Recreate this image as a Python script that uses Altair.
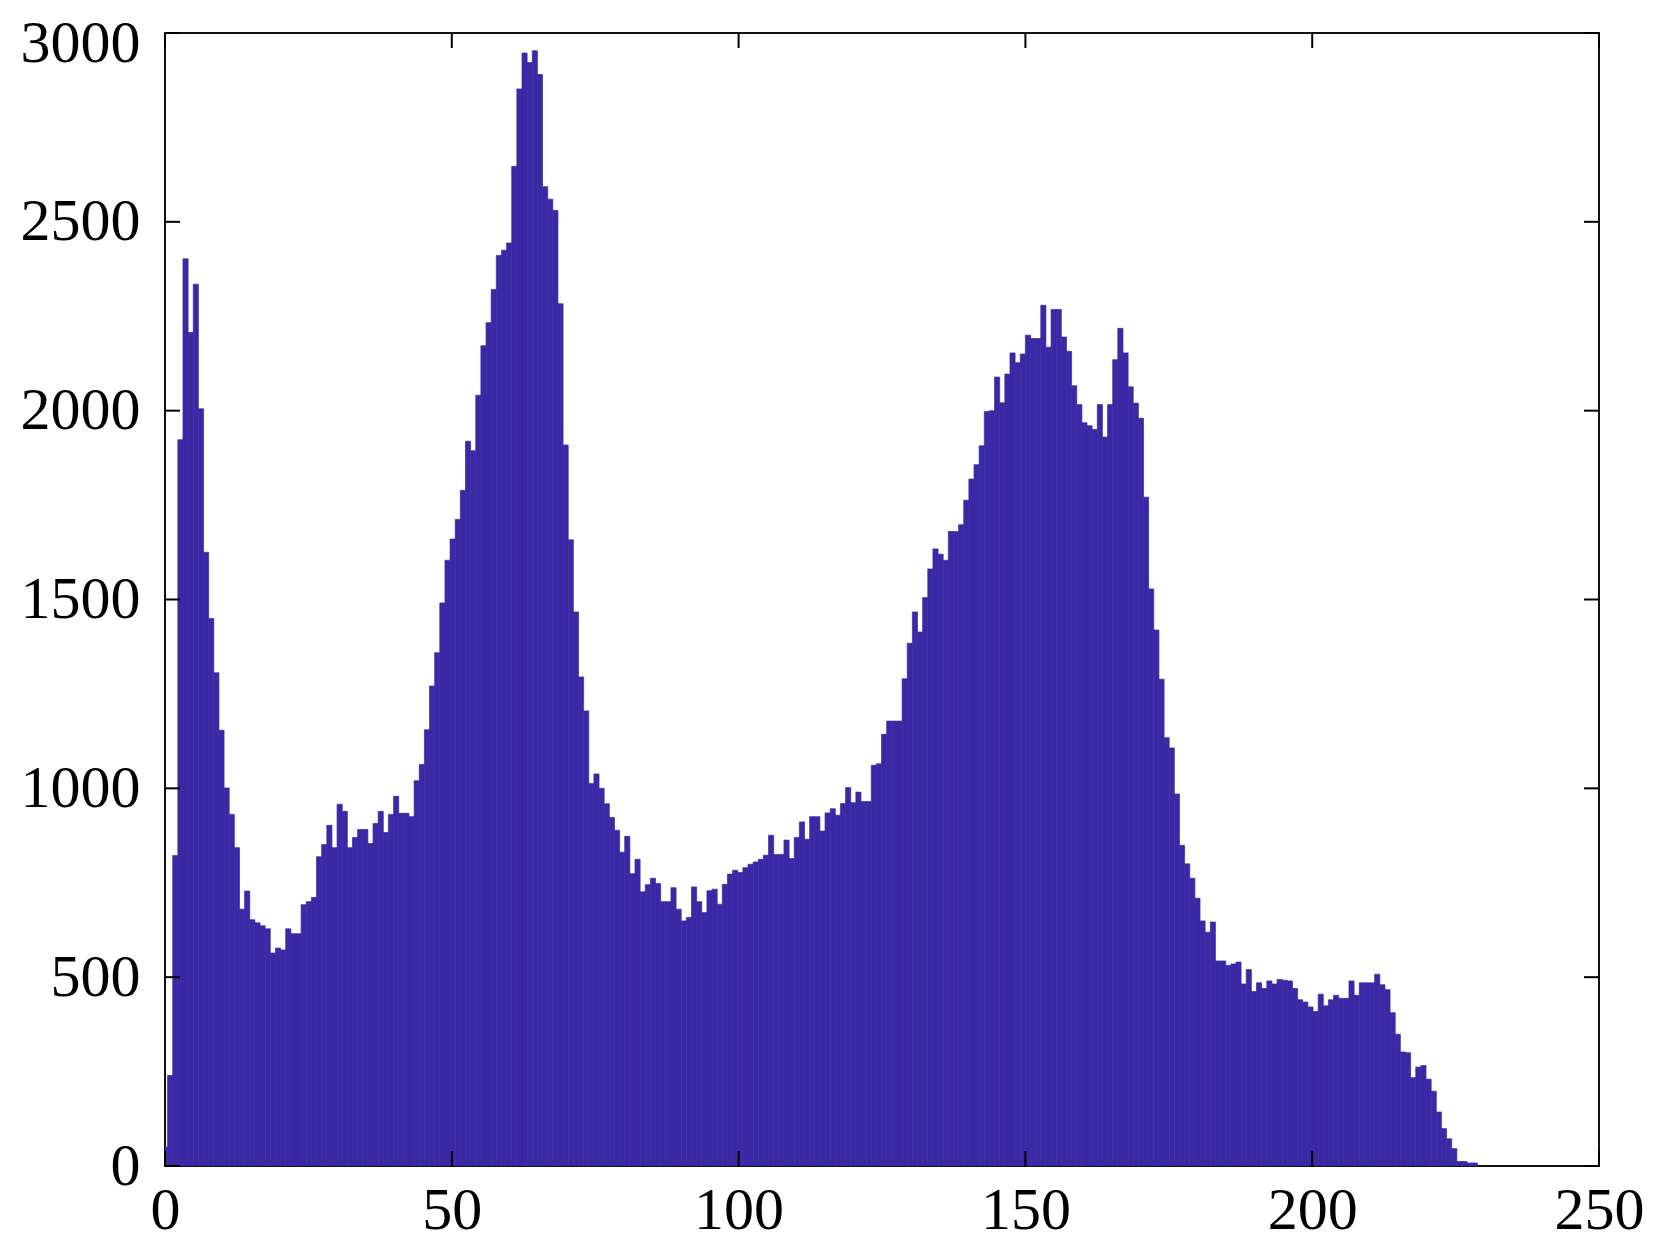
import altair as alt
import pandas as pd

# histogram counts, one per bin (256 bins)
counts = [
    50, 240, 822, 1923, 2402, 2207, 2335, 2005, 1625, 1450,
    1306, 1154, 1001, 931, 843, 680, 728, 652, 644, 636,
    628, 564, 577, 572, 628, 615, 615, 692, 700, 711,
    819, 851, 902, 843, 958, 939, 843, 870, 891, 891,
    854, 907, 939, 883, 931, 979, 934, 934, 925, 1020,
    1063, 1155, 1271, 1359, 1491, 1604, 1660, 1712, 1789, 1919,
    1894, 2041, 2172, 2233, 2321, 2411, 2425, 2444, 2647, 2852,
    2947, 2922, 2953, 2890, 2593, 2560, 2530, 2283, 1909, 1658,
    1467, 1295, 1205, 1013, 1038, 1000, 959, 923, 889, 831,
    873, 774, 812, 726, 745, 762, 748, 700, 700, 737,
    680, 649, 658, 739, 700, 671, 729, 733, 693, 746,
    773, 783, 777, 790, 799, 805, 812, 823, 876, 825,
    825, 863, 814, 870, 911, 865, 925, 925, 887, 935,
    946, 929, 960, 1002, 962, 990, 965, 965, 1061, 1065,
    1143, 1178, 1178, 1178, 1290, 1384, 1467, 1414, 1505, 1581,
    1634, 1620, 1604, 1680, 1680, 1698, 1763, 1819, 1857, 1907,
    1998, 2000, 2089, 2021, 2097, 2153, 2127, 2150, 2200, 2191,
    2191, 2279, 2168, 2268, 2268, 2195, 2157, 2066, 2016, 1968,
    1960, 1950, 2016, 1930, 2016, 2135, 2218, 2153, 2063, 2020,
    1980, 1771, 1528, 1419, 1289, 1134, 1107, 985, 849, 800,
    762, 709, 649, 619, 646, 543, 543, 531, 535, 540,
    482, 520, 462, 485, 470, 490, 482, 494, 492, 490,
    470, 440, 434, 421, 409, 455, 424, 440, 452, 444,
    444, 490, 452, 485, 485, 485, 508, 480, 467, 406,
    349, 302, 300, 234, 262, 266, 230, 198, 143, 99,
    72, 46, 12, 12, 8, 8,
]
bin_width = 0.8955          # width of one bin in axis units
x_ticks = [0, 50, 100, 150, 200, 250]
y_ticks = [0, 500, 1000, 1500, 2000, 2500, 3000]

W, H = 1434, 1133
TICK = 15
FONT = "Liberation Serif"
BAR = "#3b28a5"

df = pd.DataFrame({"k": list(range(len(counts))), "count": counts})
df["x0"] = (df["k"] - 0.5) * bin_width
df["x1"] = (df["k"] + 0.5) * bin_width

xscale = alt.Scale(domain=[0, 250], nice=False, zero=False)
yscale = alt.Scale(domain=[0, 3000], nice=False)

xaxis = alt.Axis(values=x_ticks, format="d", ticks=False, tickSize=0, domain=False,
                 grid=False, title=None, labelFont=FONT, labelFontSize=60,
                 labelColor="black", labelPadding=15, labelFlush=False,
                 labelOverlap=False)
yaxis = alt.Axis(values=y_ticks, format="d", ticks=False, tickSize=0, domain=False,
                 grid=False, title=None, labelFont=FONT, labelFontSize=60,
                 labelColor="black", labelPadding=25, labelFlush=False,
                 labelOverlap=False,
                 labelOffset={"condition": {"test": "datum.value == 3000", "value": 10},
                              "value": 0})

bars = alt.Chart(df).mark_rect(color=BAR, stroke=BAR, strokeWidth=0.7,
                               clip=True).encode(
    x=alt.X("x0:Q", scale=xscale, axis=xaxis),
    x2="x1:Q",
    y=alt.Y("count:Q", scale=yscale, axis=yaxis),
    y2=alt.datum(0),
)

xt = pd.DataFrame({"v": x_ticks})
yt = pd.DataFrame({"v": y_ticks})

xb = alt.Chart(xt).mark_rule(color="black", strokeWidth=2).encode(
    x=alt.X("v:Q", scale=xscale, axis=xaxis),
    y=alt.value(H), y2=alt.value(H - TICK))
xtop = alt.Chart(xt).mark_rule(color="black", strokeWidth=2).encode(
    x=alt.X("v:Q", scale=xscale, axis=xaxis),
    y=alt.value(0), y2=alt.value(TICK))
yl = alt.Chart(yt).mark_rule(color="black", strokeWidth=2).encode(
    y=alt.Y("v:Q", scale=yscale, axis=yaxis),
    x=alt.value(0), x2=alt.value(TICK))
yr = alt.Chart(yt).mark_rule(color="black", strokeWidth=2).encode(
    y=alt.Y("v:Q", scale=yscale, axis=yaxis),
    x=alt.value(W - TICK), x2=alt.value(W))

chart = alt.layer(bars, xb, xtop, yl, yr).properties(
    width=W, height=H,
    padding={"left": 157, "top": 25, "right": 50, "bottom": 85},
    autosize=alt.AutoSizeParams(type="none"),
    background="white",
).configure_view(stroke="#111111", strokeWidth=2)

chart.save("out.html", embed_options={"renderer": "svg", "actions": False})
